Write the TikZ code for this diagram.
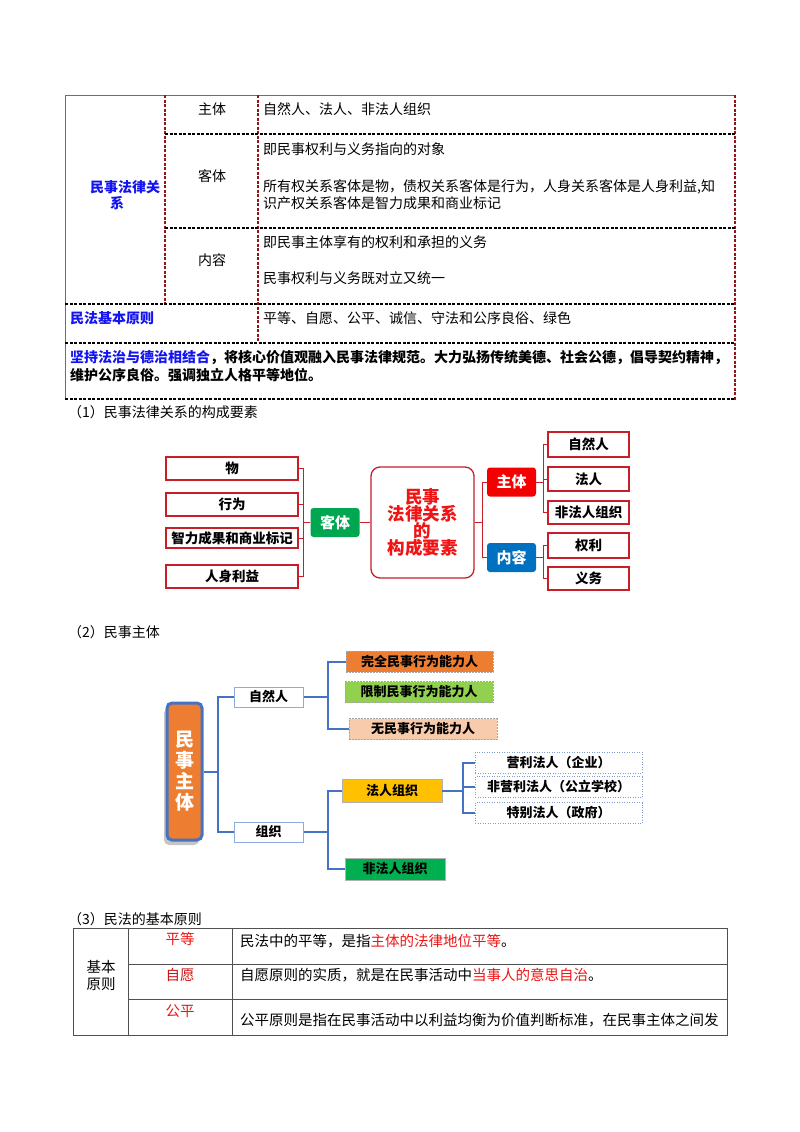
\documentclass[tikz,border=0pt]{standalone}
\usepackage{fontspec}
\newfontfamily\cjk{Noto Sans CJK SC}
\usetikzlibrary{shadows,calc}
\definecolor{tred}{RGB}{150,20,25}
\definecolor{tgray}{RGB}{110,110,110}
\definecolor{tblue}{RGB}{20,20,240}
\definecolor{dred}{RGB}{200,30,40}
\definecolor{kgreen}{RGB}{0,166,80}
\definecolor{zred}{RGB}{245,0,0}
\definecolor{nblue}{RGB}{0,112,192}
\definecolor{cblue}{RGB}{68,114,196}
\definecolor{lblue}{RGB}{143,170,220}
\definecolor{orng}{RGB}{237,125,49}
\definecolor{lgreen}{RGB}{146,208,80}
\definecolor{peach}{RGB}{248,203,173}
\definecolor{gold}{RGB}{255,192,0}
\definecolor{dgreen}{RGB}{0,176,80}
\definecolor{t3gray}{RGB}{80,80,80}
\definecolor{fred}{RGB}{240,20,20}
\begin{document}
\begin{tikzpicture}[x=1pt,y=-1pt,
  every node/.style={inner sep=0pt},
  txt/.style={anchor=west, font=\cjk\fontsize{14}{16}\selectfont},
  ctxt/.style={font=\cjk\fontsize{14}{16}\selectfont},
  bluebold/.style={text=tblue, font=\cjk\bfseries\fontsize{14}{16}\selectfont},
  solidline/.style={draw=tgray, line width=1pt},
  reddash/.style={draw=tred, line width=1.1pt, dash pattern=on 3pt off 1.5pt},
  blackdash/.style={draw=black, line width=1.2pt, dash pattern=on 3pt off 1.5pt},
  dbox/.style={draw=dred, line width=1.2pt, fill=white, font=\cjk\bfseries\fontsize{13.5}{15}\selectfont,
    drop shadow={opacity=.25, shadow xshift=1pt, shadow yshift=-1pt}},
  cbox/.style={rounded corners=3pt, text=white, font=\cjk\bfseries\fontsize{15}{17}\selectfont, minimum width=49, minimum height=29},
  dline/.style={draw=dred, line width=1pt},
  conn/.style={draw=cblue, line width=2pt},
  wbox/.style={draw=lblue, line width=1pt, fill=white, minimum width=69, minimum height=20, font=\cjk\bfseries\fontsize{13}{15}\selectfont},
  abox/.style={draw=gray!70, line width=.8pt, dash pattern=on 2pt off 1pt, font=\cjk\bfseries\fontsize{13}{15}\selectfont, minimum height=21},
  fbox/.style={draw=cblue!70, line width=.8pt, dash pattern=on 1pt off 1.5pt, fill=white, minimum width=167, minimum height=21, font=\cjk\bfseries\fontsize{13}{15}\selectfont},
  t3line/.style={draw=t3gray, line width=1pt},
  t3t/.style={anchor=west, font=\cjk\fontsize{14.5}{17}\selectfont},
  t3c/.style={font=\cjk\fontsize{14.5}{17}\selectfont, align=center}
]
\useasboundingbox (0,0) rectangle (800,1132);
\fill[white] (0,0) rectangle (800,1132);

% ---------------- top table ----------------
\draw[solidline] (65,95) -- (735,95);
\draw[solidline] (65,95) -- (65,400);
\draw[reddash] (735,95) -- (735,400);
\draw[reddash] (165,95) -- (165,303);
\draw[reddash] (258,95) -- (258,342);
\draw[blackdash] (165,134) -- (735,134);
\draw[blackdash] (165,228) -- (735,228);
\draw[blackdash] (65,304) -- (735,304);
\draw[blackdash] (65,343) -- (735,343);
\draw[blackdash] (65,399) -- (735,399);

\node[ctxt] (t1a) at (212,109) {主体};
\node[txt] (t1b) at (263,109) {自然人、法人、非法人组织};
\node[txt] (t2a) at (263,149) {即民事权利与义务指向的对象};
\node[ctxt] (t2h) at (212,176) {客体};
\node[txt] (t2b) at (263,187) {所有权关系客体是物，债权关系客体是行为，人身关系客体是人身利益,知};
\node[txt] (t2c) at (263,203) {识产权关系客体是智力成果和商业标记};
\node[txt] (t3a) at (263,242) {即民事主体享有的权利和承担的义务};
\node[ctxt] (t3h) at (212,260) {内容};
\node[txt] (t3b) at (263,278) {民事权利与义务既对立又统一};
\node[txt, bluebold] (lr1) at (90,187) {民事法律关};
\node[bluebold] (lr2) at (117,203) {系};
\node[txt, bluebold] (jbyz) at (70,318) {民法基本原则};
\node[txt] (jbyz2) at (263,318) {平等、自愿、公平、诚信、守法和公序良俗、绿色};
\node[txt, font=\cjk\bfseries\fontsize{14}{16}\selectfont] (jc1) at (70,358) {\textcolor{tblue}{坚持法治与德治相结合}，将核心价值观融入民事法律规范。大力弘扬传统美德、社会公德，倡导契约精神，};
\node[txt, font=\cjk\bfseries\fontsize{14}{16}\selectfont] (jc2) at (70,375) {维护公序良俗。强调独立人格平等地位。};

% ---------------- captions ----------------
\node[txt] (cap1) at (68,412) {（1）民事法律关系的构成要素};
\node[txt] (cap2) at (68,632) {（2）民事主体};
\node[txt] (cap3) at (68,919) {（3）民法的基本原则};

% ---------------- diagram 1 ----------------
\node[dbox, minimum width=132, minimum height=23] (wu) at (232,468.5) {物};
\node[dbox, minimum width=132, minimum height=23] (xw) at (232,504.5) {行为};
\node[dbox, minimum width=132, minimum height=20] (zl) at (232,538) {智力成果和商业标记};
\node[dbox, minimum width=132, minimum height=23] (rs) at (232,576.5) {人身利益};
\node[cbox, fill=kgreen] (kt) at (335,522.5) {客体};
\node[draw=dred, line width=1.3pt, rounded corners=9pt, fill=white, minimum width=103, minimum height=111,
  align=center, text=fred, font=\cjk\bfseries\fontsize{17.5}{17.3}\selectfont] (ctr) at (422.5,522.5) {民事\\法律关系\\的\\构成要素};
\node[cbox, fill=zred] (zt) at (511.5,482) {主体};
\node[cbox, fill=nblue] (nr) at (511.5,557.5) {内容};
\node[dbox, minimum width=81, minimum height=25] (zrr) at (588.5,444.5) {自然人};
\node[dbox, minimum width=81, minimum height=24] (fr) at (588.5,479) {法人};
\node[dbox, minimum width=81, minimum height=23] (ffr) at (588.5,512.5) {非法人组织};
\node[dbox, minimum width=81, minimum height=25] (ql) at (588.5,545.5) {权利};
\node[dbox, minimum width=81, minimum height=23] (yw) at (588.5,578.5) {义务};

\coordinate (k1) at (303,522.5);
\draw[dline] (kt.west) -- (k1);
\draw[dline] (wu.east) -| (k1);
\draw[dline] (xw.east) -| (k1);
\draw[dline] (zl.east) -| (k1);
\draw[dline] (rs.east) -| (k1);
\draw[dline] (kt.east) -- (ctr.west);
\coordinate (k2) at (482,522.5);
\draw[dline] (ctr.east) -- (k2);
\draw[dline] (zt.west) -| (k2);
\draw[dline] (nr.west) -| (k2);
\coordinate (k3) at (543,482);
\draw[dline] (zt.east) -- (k3);
\draw[dline] (zrr.west) -| (k3);
\draw[dline] (fr.west) -| (k3);
\draw[dline] (ffr.west) -| (k3);
\coordinate (k4) at (543,557.5);
\draw[dline] (nr.east) -- (k4);
\draw[dline] (ql.west) -| (k4);
\draw[dline] (yw.west) -| (k4);

% ---------------- diagram 2 ----------------
\node[draw=cblue, line width=3pt, fill=orng, rounded corners=5pt, minimum width=35, minimum height=137,
  align=center, text=white, font=\cjk\bfseries\fontsize{19}{21}\selectfont,
  drop shadow={opacity=.45, shadow xshift=-3pt, shadow yshift=-5pt, fill=gray}] (mz) at (184.5,771.5) {民\\事\\主\\体};
\node[wbox] (zr) at (268.5,697) {自然人};
\node[wbox] (zz) at (268.5,832) {组织};
\node[abox, fill=orng, minimum width=147] (wq) at (419.5,661.5) {完全民事行为能力人};
\node[abox, fill=lgreen, minimum width=148] (xz) at (419,692) {限制民事行为能力人};
\node[abox, fill=peach, minimum width=148] (wm) at (423,729) {无民事行为能力人};
\node[draw=gray!60, line width=.6pt, fill=gold, minimum width=100, minimum height=23, font=\cjk\bfseries\fontsize{13}{15}\selectfont] (frzz) at (392,790.5) {法人组织};
\node[draw=gray!60, line width=.6pt, fill=dgreen, minimum width=100, minimum height=22, font=\cjk\bfseries\fontsize{13}{15}\selectfont] (fzz) at (395,869) {非法人组织};
\node[fbox] (yl) at (558.5,762.5) {营利法人（企业）};
\node[fbox] (fyl) at (558.5,787) {非营利法人（公立学校）};
\node[fbox] (tb) at (558.5,813) {特别法人（政府）};

\coordinate (m1) at (218,771.5);
\draw[conn] (mz.east) -- (m1);
\draw[conn] (zr.west) -| (m1);
\draw[conn] (zz.west) -| (m1);
\coordinate (m2) at (328,697);
\draw[conn] (zr.east) -- (m2);
\draw[conn] (wq.west) -| (m2);
\draw[conn] (wm.west) -| (m2);
\coordinate (m3) at (328,832);
\draw[conn] (zz.east) -- (m3);
\draw[conn] (frzz.west) -| (m3);
\draw[conn] (fzz.west) -| (m3);
\coordinate (m4) at (463,790.5);
\draw[conn] (frzz.east) -- (m4);
\draw[conn] (yl.west) -| (m4);
\draw[conn] (fyl.west) -| (m4);
\draw[conn] (tb.west) -| (m4);

% ---------------- table 3 ----------------
\draw[t3line] (73,928) rectangle (727,1035);
\draw[t3line] (128,928) -- (128,1035);
\draw[t3line] (232,928) -- (232,1035);
\draw[t3line] (128,964) -- (727,964);
\draw[t3line] (128,999) -- (727,999);
\node[t3c] (jb) at (101,975.5) {基本\\原则};
\node[t3c, text=fred] (pd) at (180,939) {平等};
\node[t3c, text=fred!85!black] (zy) at (180,975) {自愿};
\node[t3c, text=fred] (gp) at (180,1011) {公平};
\node[t3t] (pd2) at (240,941) {民法中的平等，是指\textcolor{fred}{主体的法律地位平等}。};
\node[t3t] (zy2) at (240,975) {自愿原则的实质，就是在民事活动中\textcolor{fred}{当事人的意思自治}。};
\node[t3t] (gp2) at (240,1020) {公平原则是指在民事活动中以利益均衡为价值判断标准，在民事主体之间发};
\end{tikzpicture}
\end{document}
